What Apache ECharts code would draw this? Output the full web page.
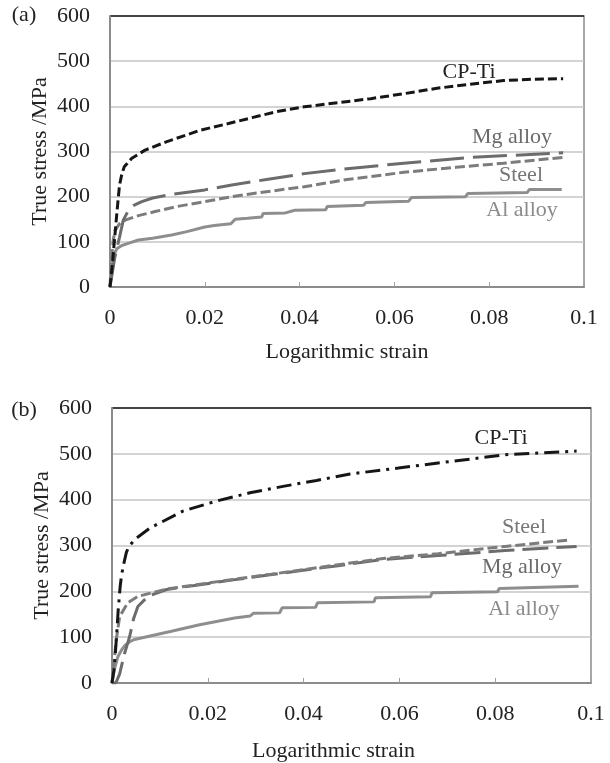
<!DOCTYPE html>
<html>
<head>
<meta charset="utf-8">
<script src="https://cdn.jsdelivr.net/npm/echarts@6/dist/echarts.min.js"></script>
<style>
  html, body { margin: 0; padding: 0; background: #fff; }
  #chart { width: 610px; height: 763px; }
</style>
</head>
<body>
<div id="chart"></div>
<script>
// axis ranges (both panels share them)
var strainMax = 0.1;
var strainStep = 0.02;
var stressMax = 600;
var stressStep = 100;

// panel (a): [logarithmic strain, true stress MPa]
var tiA = [[0,0],[0.0005,50],[0.001,110],[0.0015,170],[0.002,225],[0.0025,250],[0.003,266],[0.0046,285],
  [0.0074,303],[0.012,322],[0.016,336],[0.019,347],[0.025,362],[0.03,375],[0.035,388],[0.041,399],
  [0.048,408],[0.055,417],[0.062,428],[0.069,440],[0.076,449],[0.083,457],[0.089,460],[0.0956,461]];
var mgA = [[0,0],[0.001,65],[0.002,110],[0.0028,148],[0.004,172],[0.0049,180],[0.0067,189],[0.009,197],
  [0.013,205],[0.02,215],[0.0257,226],[0.033,238],[0.041,251],[0.05,262],[0.062,274],[0.076,287],[0.0956,297]];
var steelA = [[0,0],[0.0003,60],[0.0007,105],[0.0011,126],[0.002,140],[0.0032,148],[0.006,158],[0.0095,167],
  [0.014,178],[0.02,189],[0.0257,200],[0.033,211],[0.041,222],[0.05,238],[0.062,254],[0.073,265],
  [0.083,274],[0.0956,287]];
var alA = [[0,0],[0.0004,45],[0.0008,72],[0.0015,85],[0.0025,92],[0.004,97],[0.006,104],[0.009,108],
  [0.013,115],[0.016,122],[0.02,133],[0.022,136],[0.0255,140],[0.0264,150],[0.029,152],[0.032,155],
  [0.0323,163],[0.037,164],[0.039,170],[0.0455,171],[0.0458,178],[0.0535,181],[0.054,187],[0.063,190],
  [0.0636,198],[0.075,200],[0.0755,207],[0.088,209],[0.0885,216],[0.0953,216]];

// panel (b)
var tiB = [[0,0],[0.0005,35],[0.001,110],[0.0013,160],[0.0017,210],[0.002,236],[0.0025,262],[0.003,285],
  [0.0035,297],[0.0047,313],[0.0079,338],[0.0148,375],[0.0218,397],[0.0288,415],[0.0357,429],
  [0.0427,442],[0.0497,456],[0.0598,469],[0.0681,480],[0.0821,498],[0.097,506]];
var steelB = [[0,0],[0.0004,45],[0.0009,95],[0.0016,145],[0.0033,175],[0.0054,189],[0.0114,205],
  [0.018,215],[0.0253,226],[0.033,237],[0.0399,247],[0.0472,258],[0.057,272],[0.0681,282],
  [0.0821,298],[0.0953,312]];
var mgB = [[0,0],[0.0008,0],[0.0016,20],[0.0025,60],[0.0037,102],[0.0045,140],[0.0054,167],[0.0075,189],
  [0.0114,204],[0.018,214],[0.0253,225],[0.033,236],[0.0399,246],[0.0472,256],[0.057,270],
  [0.0681,278],[0.0821,289],[0.097,298]];
var alB = [[0,0],[0.0005,30],[0.00125,58],[0.002,72],[0.0027,82],[0.0037,90],[0.0047,95],[0.0124,113],
  [0.0183,127],[0.0256,142],[0.0288,146],[0.0295,152],[0.035,153],[0.0355,164],[0.0425,165],
  [0.0429,175],[0.0547,177],[0.055,186],[0.0665,188],[0.0668,197],[0.0805,199],[0.0808,206],[0.0974,211]];

var serif = "'Liberation Serif', 'Times New Roman', serif";

function xAxisFor(gridIndex, gap, namePad) {
  return {
    type: 'value', gridIndex: gridIndex, min: 0, max: strainMax, interval: strainStep,
    name: 'Logarithmic strain', nameLocation: 'middle', nameGap: gap,
    nameTextStyle: { fontFamily: serif, fontSize: 22, color: '#222', padding: namePad },
    axisLine: { lineStyle: { color: '#8c8c8c', width: 2 } },
    axisTick: { show: true, inside: true, length: 5, lineStyle: { color: '#a0a0a0' } },
    axisLabel: { margin: 20, fontFamily: serif, fontSize: 22, color: '#222' },
    splitLine: { show: false }
  };
}

function yAxisFor(gridIndex) {
  return {
    type: 'value', gridIndex: gridIndex, min: 0, max: stressMax, interval: stressStep,
    name: 'True stress /MPa', nameLocation: 'middle', nameGap: 59, nameRotate: 90,
    nameMoveOverlap: false,
    nameTextStyle: { fontFamily: serif, fontSize: 22, color: '#222' },
    axisLine: { show: true, lineStyle: { color: '#8c8c8c', width: 2 } },
    axisTick: { show: false },
    axisLabel: { margin: 20, fontFamily: serif, fontSize: 22, color: '#222' },
    splitLine: { show: true, lineStyle: { width: 1.5,
      color: ['#c4c4c4', '#c4c4c4', '#c4c4c4', '#c4c4c4', '#c4c4c4', '#c4c4c4', '#222'] } }
  };
}

function line(data, idx, color, dash) {
  return {
    type: 'line', data: data, xAxisIndex: idx, yAxisIndex: idx,
    showSymbol: false, smooth: false, animation: false,
    lineStyle: { color: color, width: 3, type: dash }
  };
}

function label(text, x, y, color) {
  return { type: 'text', x: x, y: y, style: { text: text, fill: color, font: '22px ' + serif,
    align: 'center', verticalAlign: 'middle' } };
}

var chart = echarts.init(document.getElementById('chart'));
chart.setOption({
  backgroundColor: '#fff',
  animation: false,
  grid: [
    { left: 110, top: 16, width: 474, height: 271, show: true, borderColor: '#8c8c8c', borderWidth: 1.5,
      containLabel: false, outerBoundsMode: 'none' },
    { left: 112, top: 408, width: 479, height: 275, show: true, borderColor: '#8c8c8c', borderWidth: 1.5,
      containLabel: false, outerBoundsMode: 'none' }
  ],
  xAxis: [xAxisFor(0, 54, [0, 0, 0, 0]), xAxisFor(1, 57, [0, 36, 0, 0])],
  yAxis: [yAxisFor(0), yAxisFor(1)],
  series: [
    line(alA, 0, '#8e8e8e', 'solid'),
    line(steelA, 0, '#7c7c7c', [10, 4]),
    line(mgA, 0, '#6c6c6c', [34, 9]),
    line(tiA, 0, '#161616', [9, 4]),
    line(alB, 1, '#8e8e8e', 'solid'),
    line(mgB, 1, '#6c6c6c', [26, 8]),
    line(steelB, 1, '#7c7c7c', [10, 4]),
    line(tiB, 1, '#161616', [15, 6, 3, 6])
  ],
  graphic: [
    label('(a)', 24, 15, '#222'),
    label('(b)', 24, 410, '#222'),
    label('CP-Ti', 469, 72, '#222'),
    label('Mg alloy', 512, 137, '#6a6a6a'),
    label('Steel', 521, 175, '#777'),
    label('Al alloy', 522, 210, '#8a8a8a'),
    label('CP-Ti', 501, 438, '#222'),
    label('Steel', 524, 527, '#777'),
    label('Mg alloy', 522, 567, '#6a6a6a'),
    label('Al alloy', 524, 609, '#8a8a8a')
  ]
});
</script>
</body>
</html>
